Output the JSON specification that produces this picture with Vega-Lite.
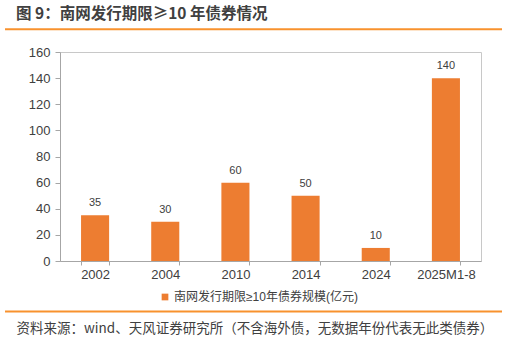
{
  "$schema": "https://vega.github.io/schema/vega-lite/v6.json",
  "autosize": {"type": "none"},
  "padding": {"left": 60, "top": 52, "right": 27, "bottom": 79},
  "width": 421,
  "height": 209,
  "background": "white",
  "config": {
    "view": {"stroke": "#c8c8c8", "strokeWidth": 1},
    "font": "Liberation Sans, Noto Sans CJK SC, sans-serif"
  },
  "title": {
    "text": "图 9：南网发行期限≥10 年债券情况",
    "anchor": "start",
    "frame": "group",
    "dx": -44,
    "offset": 6,
    "font": "Noto Sans CJK SC, sans-serif",
    "fontSize": 15.5,
    "fontWeight": "bold",
    "color": "#404040"
  },
  "data": {
    "values": [
      {"period": "2002", "value": 35, "series": "南网发行期限≥10年债券规模(亿元)"},
      {"period": "2004", "value": 30, "series": "南网发行期限≥10年债券规模(亿元)"},
      {"period": "2010", "value": 60, "series": "南网发行期限≥10年债券规模(亿元)"},
      {"period": "2014", "value": 50, "series": "南网发行期限≥10年债券规模(亿元)"},
      {"period": "2024", "value": 10, "series": "南网发行期限≥10年债券规模(亿元)"},
      {"period": "2025M1-8", "value": 140, "series": "南网发行期限≥10年债券规模(亿元)"}
    ]
  },
  "resolve": {"scale": {"x": "independent", "y": "independent"}},
  "layer": [
    {
      "encoding": {
        "x": {
          "field": "period",
          "type": "nominal",
          "sort": null,
          "scale": {"paddingInner": 0.6, "paddingOuter": 0.3},
          "axis": {
            "title": "资料来源：wind、天风证券研究所（不含海外债，无数据年份代表无此类债券）",
            "titleX": -44,
            "titleY": 67,
            "titleAlign": "left",
            "titleBaseline": "middle",
            "titleFont": "Noto Sans CJK SC, sans-serif",
            "titleFontSize": 13.5,
            "titleFontWeight": "normal",
            "titleColor": "#404040",
            "labelAngle": 0,
            "labelFontSize": 13,
            "labelColor": "#404040",
            "labelPadding": 3,
            "tickBand": "extent",
            "tickSize": 4,
            "tickColor": "#a6a6a6",
            "domainColor": "#a6a6a6"
          }
        },
        "y": {
          "field": "value",
          "type": "quantitative",
          "scale": {"domain": [0, 160]},
          "axis": {
            "title": null,
            "values": [0, 20, 40, 60, 80, 100, 120, 140, 160],
            "labelOverlap": false,
            "grid": false,
            "labelFontSize": 13,
            "labelColor": "#404040",
            "labelPadding": 5,
            "tickSize": 5,
            "tickColor": "#a6a6a6",
            "domainColor": "#a6a6a6"
          }
        }
      },
      "layer": [
        {
          "mark": {"type": "bar", "color": "#ED7D31"},
          "encoding": {
            "color": {
              "field": "series",
              "type": "nominal",
              "scale": {"range": ["#ED7D31"]},
              "legend": {
                "orient": "none",
                "legendX": 99,
                "legendY": 239,
                "title": null,
                "symbolType": "square",
                "symbolSize": 45,
                "symbolStrokeWidth": 0,
                "labelFontSize": 12,
                "labelColor": "#404040",
                "labelOffset": 3,
                "labelLimit": 400,
                "padding": 0
              }
            }
          }
        },
        {
          "mark": {"type": "text", "baseline": "bottom", "dy": -7, "fontSize": 11, "color": "#404040"},
          "encoding": {"text": {"field": "value", "type": "quantitative"}}
        }
      ]
    },
    {
      "data": {"values": [{}]},
      "mark": {"type": "rule", "color": "#F8922E", "strokeWidth": 2, "clip": false},
      "encoding": {
        "x": {"datum": -0.1306, "type": "quantitative", "scale": {"domain": [0, 1]}, "axis": null},
        "x2": {"datum": 1.0499},
        "y": {"datum": 1.1086, "type": "quantitative", "scale": {"domain": [0, 1]}, "axis": null}
      }
    },
    {
      "data": {"values": [{}]},
      "mark": {"type": "rule", "color": "#F8922E", "strokeWidth": 2, "clip": false},
      "encoding": {
        "x": {"datum": -0.1306, "type": "quantitative", "scale": {"domain": [0, 1]}, "axis": null},
        "x2": {"datum": 1.0499},
        "y": {"datum": -0.2416, "type": "quantitative", "scale": {"domain": [0, 1]}, "axis": null}
      }
    }
  ]
}
